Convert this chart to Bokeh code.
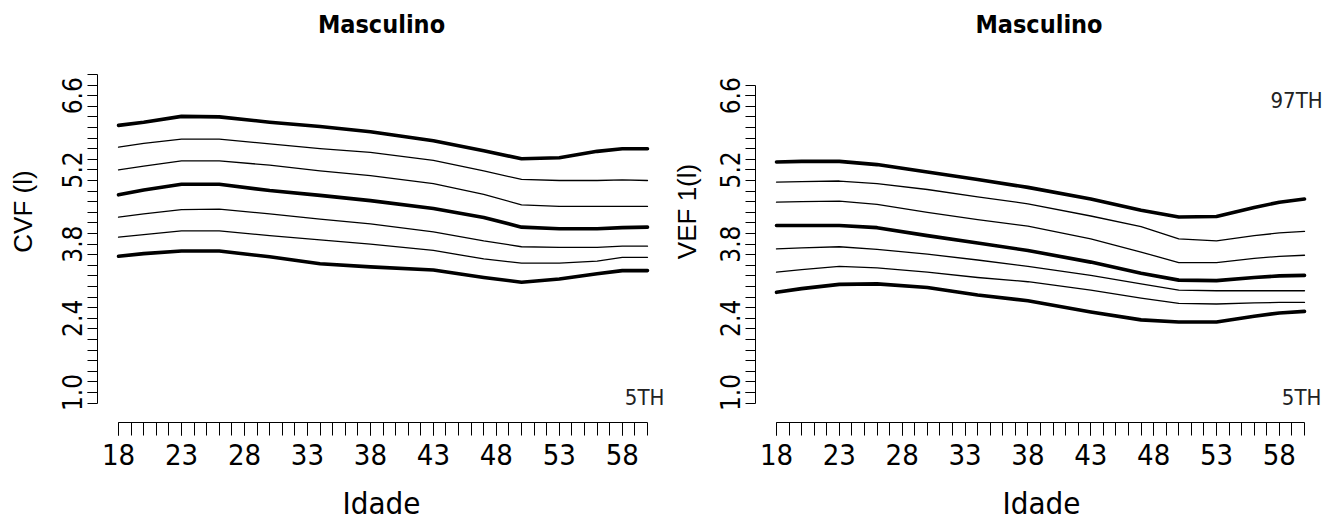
import numpy as np
from bokeh.plotting import figure
from bokeh.layouts import row
from bokeh.models import Range1d, FixedTicker, PrintfTickFormatter
from bokeh.core.properties import value
from bokeh.embed import file_html
from bokeh.resources import INLINE

# ---------------- data ----------------
ages = [18, 20, 23, 26, 30, 34, 38, 43, 47, 50, 53, 56, 58, 60]

# CVF (left panel), centile curves from top to bottom
cvf_97 = [6.04, 6.10, 6.21, 6.20, 6.10, 6.02, 5.92, 5.75, 5.56, 5.41, 5.43, 5.55, 5.60, 5.60]
cvf_90 = [5.63, 5.70, 5.78, 5.78, 5.69, 5.60, 5.53, 5.38, 5.18, 5.02, 5.00, 5.00, 5.01, 5.00]
cvf_75 = [5.20, 5.27, 5.37, 5.37, 5.29, 5.18, 5.09, 4.94, 4.74, 4.54, 4.51, 4.51, 4.51, 4.51]
cvf_50 = [4.73, 4.82, 4.93, 4.93, 4.81, 4.72, 4.62, 4.47, 4.30, 4.12, 4.09, 4.09, 4.11, 4.12]
cvf_25 = [4.31, 4.37, 4.45, 4.46, 4.37, 4.27, 4.18, 4.03, 3.86, 3.75, 3.74, 3.74, 3.76, 3.76]
cvf_10 = [3.93, 3.98, 4.05, 4.05, 3.96, 3.88, 3.80, 3.68, 3.52, 3.44, 3.44, 3.48, 3.55, 3.55]
cvf_05 = [3.57, 3.62, 3.67, 3.67, 3.56, 3.43, 3.37, 3.31, 3.17, 3.08, 3.14, 3.24, 3.30, 3.30]

# VEF1 (right panel)
vef_97 = [5.35, 5.36, 5.36, 5.30, 5.16, 5.02, 4.87, 4.65, 4.44, 4.31, 4.32, 4.49, 4.59, 4.65]
vef_90 = [4.97, 4.98, 4.99, 4.94, 4.83, 4.69, 4.56, 4.33, 4.13, 3.90, 3.86, 3.96, 4.01, 4.04]
vef_75 = [4.59, 4.60, 4.61, 4.55, 4.40, 4.26, 4.14, 3.90, 3.65, 3.45, 3.45, 3.53, 3.57, 3.59]
vef_50 = [4.15, 4.15, 4.15, 4.11, 3.96, 3.82, 3.68, 3.46, 3.25, 3.12, 3.11, 3.17, 3.20, 3.21]
vef_25 = [3.71, 3.73, 3.75, 3.70, 3.61, 3.50, 3.38, 3.21, 3.05, 2.93, 2.92, 2.92, 2.92, 2.92]
vef_10 = [3.27, 3.32, 3.38, 3.35, 3.27, 3.17, 3.09, 2.93, 2.78, 2.68, 2.67, 2.69, 2.70, 2.70]
vef_05 = [2.89, 2.96, 3.04, 3.05, 2.98, 2.84, 2.73, 2.52, 2.37, 2.33, 2.33, 2.44, 2.50, 2.53]

thick_flags = [True, False, False, True, False, False, True]

x_tick_labels = [18, 23, 28, 33, 38, 43, 48, 53, 58]
x_minor_ticks = list(range(18, 61))
y_tick_labels = [1.0, 2.4, 3.8, 5.2, 6.6]

title_text = "Masculino"
x_title = "Idade"
y_title_left = "CVF (l)"
y_title_right = "VEF 1(l)"
label_low = "5TH"
label_high = "97TH"

FONT = ("'Liberation Sans Narrow', 'Arial Narrow', 'Noto Sans Condensed', "
        "'DejaVu Sans Condensed', 'Liberation Sans', Arial, sans-serif")


def make_panel(width, border_left, x_end, y_top_tick, curves, ytitle, ylab_standoff, show_high):
    p = figure(width=width, height=526,
               x_range=Range1d(16.33, x_end), y_range=Range1d(0.434, 8.396),
               output_backend="svg", toolbar_location=None,
               min_border_left=border_left, min_border_right=0,
               min_border_top=0, min_border_bottom=104)
    p.outline_line_color = None
    p.xgrid.visible = False
    p.ygrid.visible = False
    p.background_fill_color = "white"
    p.border_fill_color = "white"

    xa = p.xaxis[0]
    xa.ticker = FixedTicker(ticks=x_tick_labels, minor_ticks=x_minor_ticks)
    xa.bounds = (18, 60)
    xa.axis_line_color = "black"
    xa.major_tick_line_color = "black"
    xa.minor_tick_line_color = "black"
    xa.major_tick_in = 0
    xa.minor_tick_in = 0
    xa.major_tick_out = 13
    xa.minor_tick_out = 13
    xa.major_label_text_font = FONT
    xa.major_label_text_font_size = "29px"
    xa.major_label_text_color = "black"
    xa.major_label_standoff = 8
    xa.axis_label = x_title
    xa.axis_label_text_font = FONT
    xa.axis_label_text_font_size = "31px"
    xa.axis_label_text_font_style = "normal"
    xa.axis_label_text_color = "black"
    xa.axis_label_standoff = 17

    ya = p.yaxis[0]
    y_minor = [round(0.8 + 0.2 * i, 1) for i in range(int(round((y_top_tick - 0.8) / 0.2)) + 1)]
    ya.ticker = FixedTicker(ticks=y_tick_labels, minor_ticks=y_minor)
    ya.formatter = PrintfTickFormatter(format="%.1f")
    ya.bounds = (0.8, y_top_tick)
    ya.axis_line_color = "black"
    ya.major_tick_line_color = "black"
    ya.minor_tick_line_color = "black"
    ya.major_tick_in = 0
    ya.minor_tick_in = 0
    ya.major_tick_out = 10
    ya.minor_tick_out = 10
    ya.major_label_orientation = "vertical"
    ya.major_label_text_font = FONT
    ya.major_label_text_font_size = "26px"
    ya.major_label_text_color = "black"
    ya.major_label_standoff = 5
    ya.axis_label = ytitle
    ya.axis_label_text_font = "Liberation Sans"
    ya.axis_label_text_font_size = "26px"
    ya.axis_label_text_font_style = "normal"
    ya.axis_label_text_color = "black"
    ya.axis_label_standoff = ylab_standoff

    for vals, thick in zip(curves, thick_flags):
        p.line(ages, vals, line_color="black", line_width=3.6 if thick else 1.3,
               line_join="round", line_cap="round")

    p.text(x=[38.88], y=[7.94], text=[title_text], text_font=value(FONT),
           text_font_style="bold", text_font_size="25px", text_align="center",
           text_baseline="middle", text_color="black")
    p.text(x=[59.77], y=[0.9], text=[label_low], text_font=value(FONT),
           text_font_size="22px", text_align="center", text_baseline="middle",
           text_color="#222222")
    if show_high:
        p.text(x=[59.37], y=[6.51], text=[label_high], text_font=value(FONT),
               text_font_size="22px", text_align="center", text_baseline="middle",
               text_color="#222222")
    return p


p1 = make_panel(665, 97, 61.43, 7.0,
                [cvf_97, cvf_90, cvf_75, cvf_50, cvf_25, cvf_10, cvf_05],
                y_title_left, 22, False)
p2 = make_panel(662, 90, 61.83, 6.8,
                [vef_97, vef_90, vef_75, vef_50, vef_25, vef_10, vef_05],
                y_title_right, 16, True)

layout = row(p1, p2, spacing=0)
open("out.html", "w").write(file_html(layout, INLINE))
